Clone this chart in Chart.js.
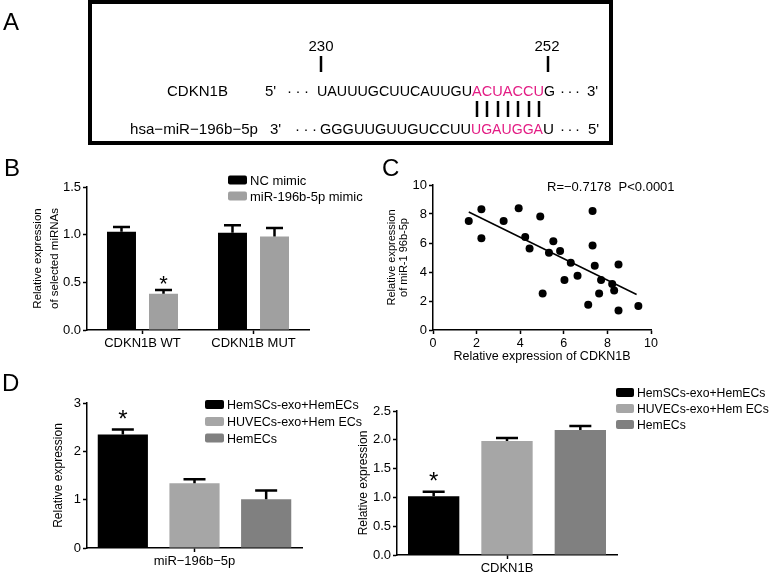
<!DOCTYPE html>
<html>
<head>
<meta charset="utf-8">
<script src="https://cdn.jsdelivr.net/npm/chart.js@4.4.1/dist/chart.umd.min.js"></script>
<style>
  body { margin: 0; background: #fff; }
  #fig { position: relative; width: 770px; height: 572px; overflow: hidden; background: #fff; }
  #fig canvas { position: absolute; }
  #ov { position: absolute; left: 0; top: 0; pointer-events: none; }
</style>
</head>
<body>
<div id="fig">
  <canvas id="cB" width="330" height="200" style="left:0;top:150px"></canvas>
  <canvas id="cC" width="290" height="220" style="left:380px;top:150px"></canvas>
  <canvas id="cD1" width="340" height="192" style="left:0;top:380px"></canvas>
  <canvas id="cD2" width="300" height="195" style="left:330px;top:380px"></canvas>

  <svg id="ov" width="770" height="572" font-family='"Liberation Sans", Arial, Helvetica, sans-serif'>
    <!-- panel A: binding site -->
    <rect x="90" y="2" width="521" height="141" fill="none" stroke="#000" stroke-width="4"/>
    <text x="3" y="30" font-size="24">A</text>
    <text x="321" y="51" font-size="15" text-anchor="middle">230</text>
    <text x="547" y="51" font-size="15" text-anchor="middle">252</text>
    <line x1="321" y1="56" x2="321" y2="72" stroke="#000" stroke-width="2.5"/>
    <line x1="548" y1="56" x2="548" y2="72" stroke="#000" stroke-width="2.5"/>
    <g font-size="15">
      <text x="167" y="96" textLength="61" lengthAdjust="spacingAndGlyphs">CDKN1B</text>
      <text x="265" y="96">5'</text>
      <text x="287" y="96" textLength="22" lengthAdjust="spacing">· · ·</text>
      <text x="317" y="96" textLength="155" lengthAdjust="spacingAndGlyphs">UAUUUGCUUCAUUGU</text>
      <text x="472" y="96" textLength="72" lengthAdjust="spacingAndGlyphs" fill="#e31c84">ACUACCU</text>
      <text x="544" y="96" textLength="11" lengthAdjust="spacingAndGlyphs">G</text>
      <text x="560" y="96" textLength="20" lengthAdjust="spacing">· · ·</text>
      <text x="587" y="96">3'</text>

      <text x="130" y="134" textLength="128" lengthAdjust="spacingAndGlyphs">hsa−miR−196b−5p</text>
      <text x="270" y="134">3'</text>
      <text x="295" y="134" textLength="22" lengthAdjust="spacing">· · ·</text>
      <text x="320" y="134" textLength="151" lengthAdjust="spacingAndGlyphs">GGGUUGUUGUCCUU</text>
      <text x="471" y="134" textLength="72" lengthAdjust="spacingAndGlyphs" fill="#e31c84">UGAUGGA</text>
      <text x="543" y="134" textLength="11" lengthAdjust="spacingAndGlyphs">U</text>
      <text x="560" y="134" textLength="20" lengthAdjust="spacing">· · ·</text>
      <text x="588" y="134">5'</text>
    </g>
    <g stroke="#000" stroke-width="2.5">
      <line x1="477" y1="101" x2="477" y2="117"/>
      <line x1="487" y1="101" x2="487" y2="117"/>
      <line x1="498" y1="101" x2="498" y2="117"/>
      <line x1="508" y1="101" x2="508" y2="117"/>
      <line x1="518" y1="101" x2="518" y2="117"/>
      <line x1="529" y1="101" x2="529" y2="117"/>
      <line x1="539" y1="101" x2="539" y2="117"/>
    </g>

    <text x="4" y="176" font-size="24">B</text>
    <text x="382" y="176" font-size="24">C</text>
    <text x="2" y="391" font-size="24">D</text>
    <text x="547" y="191" font-size="13" xml:space="preserve">R=−0.7178  P&lt;0.0001</text>
    <g id="legends"></g>
  </svg>
</div>

<script>
// panel B: luciferase-style bars
const bCategories = ["CDKN1B WT", "CDKN1B MUT"];
const bSeries = ["NC mimic", "miR-196b-5p mimic"];
const bNC = [1.03, 1.02];
const bNCErr = [0.05, 0.08];
const bMimic = [0.38, 0.98];
const bMimicErr = [0.04, 0.09];
const bNCStar = [false, false];
const bMimicStar = [true, false];
const bTicks = [0, 0.5, 1.0, 1.5];

// panel C: correlation
const cX = [1.64, 2.22, 2.22, 3.24, 3.93, 4.23, 4.43, 4.92, 5.03, 5.32, 5.52, 5.83, 6.03,
            6.32, 6.63, 7.12, 7.32, 7.32, 7.42, 7.62, 7.71, 8.22, 8.31, 8.51, 8.51, 9.42];
const cY = [7.52, 8.33, 6.33, 7.52, 8.39, 6.42, 5.62, 7.82, 2.52, 5.32, 6.12, 5.44, 3.44,
            4.63, 3.74, 1.74, 8.21, 5.83, 4.43, 2.52, 3.44, 3.17, 2.73, 4.52, 1.35, 1.65];
const fitX = [1.64, 9.34];
const fitY = [8.14, 2.45];

// panel D
const dGroups = ["HemSCs-exo+HemECs", "HUVECs-exo+Hem ECs", "HemECs"];
const dLeftCat = ["miR−196b−5p"];
const dLeftVals = [2.35, 1.34, 1.01];
const dLeftErr = [0.10, 0.08, 0.18];
const dLeftStar = [true, false, false];
const dRightCat = ["CDKN1B"];
const dRightVals = [1.02, 1.98, 2.17];
const dRightErr = [0.08, 0.05, 0.07];
const dRightStar = [true, false, false];

const FONT = '"Liberation Sans", Arial, Helvetica, sans-serif';
const bColors = ["#000000", "#a0a0a0"];
const dColors = ["#000000", "#a6a6a6", "#808080"];

Chart.defaults.font.family = FONT;
Chart.defaults.color = "#000";
Chart.defaults.animation = false;
Chart.defaults.plugins.legend.display = false;
Chart.defaults.plugins.tooltip.enabled = false;

// upper error bars + asterisks, GraphPad style
const errorBars = {
  id: "errorBars",
  afterDatasetsDraw(chart, args, opts) {
    const ctx = chart.ctx;
    const y = chart.scales.y;
    chart.data.datasets.forEach((ds, i) => {
      if (!ds.errors) return;
      chart.getDatasetMeta(i).data.forEach((bar, j) => {
        const top = y.getPixelForValue(ds.data[j] + ds.errors[j]);
        ctx.save();
        ctx.strokeStyle = "#000";
        ctx.lineWidth = opts.width;
        ctx.beginPath();
        ctx.moveTo(bar.x, bar.y);
        ctx.lineTo(bar.x, top);
        ctx.moveTo(bar.x - opts.cap / 2, top);
        ctx.lineTo(bar.x + opts.cap / 2, top);
        ctx.stroke();
        if (ds.stars && ds.stars[j]) {
          ctx.fillStyle = "#000";
          ctx.font = opts.star + "px " + FONT;
          ctx.textAlign = "center";
          ctx.textBaseline = "alphabetic";
          ctx.fillText("*", bar.x, top + opts.starShift);
        }
        ctx.restore();
      });
    });
  }
};

function xAxis(h, type, extra) {
  return Object.assign({
    type: type,
    afterFit: s => { s.height = h; },
    border: { display: true, color: "#000", width: 1.5 },
    grid: { drawOnChartArea: false, drawTicks: true, tickLength: 4, tickWidth: 1.5, tickColor: "#000", offset: false },
    ticks: { color: "#000", font: { size: 13 }, padding: 2, maxRotation: 0, autoSkip: false }
  }, extra || {});
}

function yAxis(w, min, max, step, dec, title, extra) {
  return Object.assign({
    min: min, max: max,
    afterFit: s => { s.width = w; },
    border: { display: true, color: "#000", width: 1.5 },
    grid: { drawOnChartArea: false, drawTicks: true, tickLength: 4, tickWidth: 1.5, tickColor: "#000" },
    ticks: { stepSize: step, color: "#000", font: { size: 13 }, padding: 2, callback: v => v.toFixed(dec) },
    title: title
  }, extra || {});
}

// B
new Chart(document.getElementById("cB"), {
  type: "bar",
  data: {
    labels: bCategories,
    datasets: [
      { label: bSeries[0], data: bNC, errors: bNCErr, stars: bNCStar, backgroundColor: bColors[0],
        barPercentage: 0.69, categoryPercentage: 0.757 },
      { label: bSeries[1], data: bMimic, errors: bMimicErr, stars: bMimicStar, backgroundColor: bColors[1],
        barPercentage: 0.69, categoryPercentage: 0.757 }
    ]
  },
  options: {
    responsive: false,
    layout: { padding: { left: 0, top: 37, right: 21, bottom: 0 } },
    scales: {
      x: xAxis(20, "category"),
      y: yAxis(87, bTicks[0], bTicks[bTicks.length - 1], 0.5, 1, {
        display: true, text: ["Relative expression", "of selected miRNAs"],
        font: { size: 11.5, lineHeight: 1.5 }, padding: { top: 29, bottom: 0 }
      })
    },
    plugins: { errorBars: { width: 2.5, cap: 17, star: 22, starShift: 1 } }
  },
  plugins: [errorBars]
});

// C
new Chart(document.getElementById("cC"), {
  type: "scatter",
  data: {
    datasets: [
      { data: cX.map((x, i) => ({ x: x, y: cY[i] })), backgroundColor: "#000", borderColor: "#000",
        pointRadius: 4, pointBorderWidth: 0 },
      { type: "line", data: fitX.map((x, i) => ({ x: x, y: fitY[i] })), borderColor: "#000",
        borderWidth: 1.5, pointRadius: 0, showLine: true, fill: false }
    ]
  },
  options: {
    responsive: false,
    layout: { padding: { left: 0, top: 35, right: 19, bottom: 0 } },
    scales: {
      x: xAxis(40, "linear", {
        min: 0, max: 10,
        ticks: { stepSize: 2, color: "#000", font: { size: 12.5 }, padding: 2 },
        title: { display: true, text: "Relative expression of CDKN1B", font: { size: 12.5, lineHeight: 1.2 },
                 padding: { top: 0, bottom: 5.5 } }
      }),
      y: yAxis(53, 0, 10, 2, 0, {
        display: true, text: ["Relative expression", "of miR-1 96b-5p"],
        font: { size: 11, lineHeight: 1.1 }, padding: { top: 6, bottom: 0 }
      }, {})
    }
  }
});

// D left / right
function dChart(id, cats, vals, errs, stars, yw, pad, ymax, step, dec, titlePad, xh) {
  return new Chart(document.getElementById(id), {
    type: "bar",
    data: {
      labels: cats,
      datasets: dGroups.map((g, k) => ({
        label: g, data: [vals[k]], errors: [errs[k]], stars: [stars[k]],
        backgroundColor: dColors[k], barPercentage: 0.7, categoryPercentage: 1.0
      }))
    },
    options: {
      responsive: false,
      layout: { padding: pad },
      scales: {
        x: xAxis(xh, "category"),
        y: yAxis(yw, 0, ymax, step, dec, {
          display: true, text: "Relative expression",
          font: { size: 12, lineHeight: 1.2 }, padding: { top: titlePad, bottom: 0 }
        })
      },
      plugins: { errorBars: { width: 2.5, cap: 22, star: 24, starShift: -3 } }
    },
    plugins: [errorBars]
  });
}
dChart("cD1", dLeftCat, dLeftVals, dLeftErr, dLeftStar, 87, { left: 0, top: 23, right: 38, bottom: 0 }, 3, 1, 0, 51.8, 24);
dChart("cD2", dRightCat, dRightVals, dRightErr, dRightStar, 67, { left: 0, top: 31, right: 13, bottom: 0 }, 2.5, 0.5, 1, 26, 20);

// legends (svg text)
const NS = "http://www.w3.org/2000/svg";
const lg = document.getElementById("legends");
function legend(names, colors, x, yCenters, sw, fs) {
  names.forEach((n, i) => {
    const r = document.createElementNS(NS, "rect");
    r.setAttribute("x", x); r.setAttribute("y", yCenters[i] - 4.5);
    r.setAttribute("width", sw); r.setAttribute("height", 9);
    r.setAttribute("rx", 2); r.setAttribute("fill", colors[i]);
    lg.appendChild(r);
    const t = document.createElementNS(NS, "text");
    t.setAttribute("x", x + sw + 3); t.setAttribute("y", yCenters[i] + 4.6);
    t.setAttribute("font-size", fs);
    t.textContent = n;
    lg.appendChild(t);
  });
}
legend(bSeries, bColors, 228, [180, 196], 19, 13);
legend(dGroups, dColors, 205, [404.5, 421.5, 438], 19, 12.5);
legend(dGroups, dColors, 616, [392.5, 408.5, 424.5], 18, 12.2);
</script>
</body>
</html>
